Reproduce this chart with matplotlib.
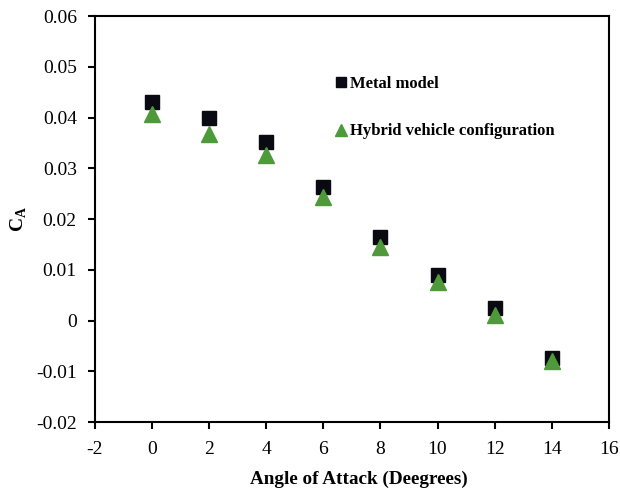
import matplotlib
matplotlib.use("Agg")
import matplotlib.pyplot as plt

plt.rcParams['font.family'] = ['Liberation Serif', 'DejaVu Serif']

angles = [0, 2, 4, 6, 8, 10, 12, 14]
metal = [0.0430, 0.0400, 0.0351, 0.0264, 0.0164, 0.0089, 0.0024, -0.0073]
hybrid = [0.0406, 0.0367, 0.0327, 0.0244, 0.0144, 0.0075, 0.0011, -0.0080]
xticks = [-2, 0, 2, 4, 6, 8, 10, 12, 14, 16]
yticks = [-0.02, -0.01, 0, 0.01, 0.02, 0.03, 0.04, 0.05, 0.06]
ytick_labels = ['-0.02', '-0.01', '0', '0.01', '0.02', '0.03', '0.04', '0.05', '0.06']

fig = plt.figure(figsize=(6.2, 4.94), dpi=100)
ax = fig.add_axes([0.153, 0.1457, 0.829, 0.8219])

ax.plot(angles, metal, linestyle='none', marker='s', markersize=10.5,
        color='#0a0a12', label='Metal model', zorder=3)
ax.plot(angles, hybrid, linestyle='none', marker='^', markersize=11.5,
        color='#4e9a3a', label='Hybrid vehicle configuration', zorder=4)

ax.set_xlim(-2, 16)
ax.set_ylim(-0.02, 0.06)
ax.set_xticks(xticks)
ax.set_xticklabels([str(t) for t in xticks])
ax.set_yticks(yticks)
ax.set_yticklabels(ytick_labels)
ax.tick_params(axis='both', direction='out', length=5, width=1.5, labelsize=14)
ax.tick_params(axis='x', pad=9)
ax.tick_params(axis='y', pad=8)
for s in ax.spines.values():
    s.set_linewidth(1.5)

ax.set_xlabel('Angle of Attack (Deegrees)', fontsize=13.8, fontweight='bold', labelpad=9)
ax.xaxis.set_label_coords(0.513, -0.12)
ax.set_ylabel(r'C$_\mathregular{A}$', fontsize=14, fontweight='bold')
ax.yaxis.set_label_coords(-0.128, 0.5)

leg = ax.legend(loc='upper left', bbox_to_anchor=(0.436, 0.89), frameon=False,
                prop={'weight': 'bold', 'size': 12},
                handletextpad=0.05, handlelength=0.9, labelspacing=1.9,
                markerscale=0.75)

fig.savefig('out.png', dpi=100)
